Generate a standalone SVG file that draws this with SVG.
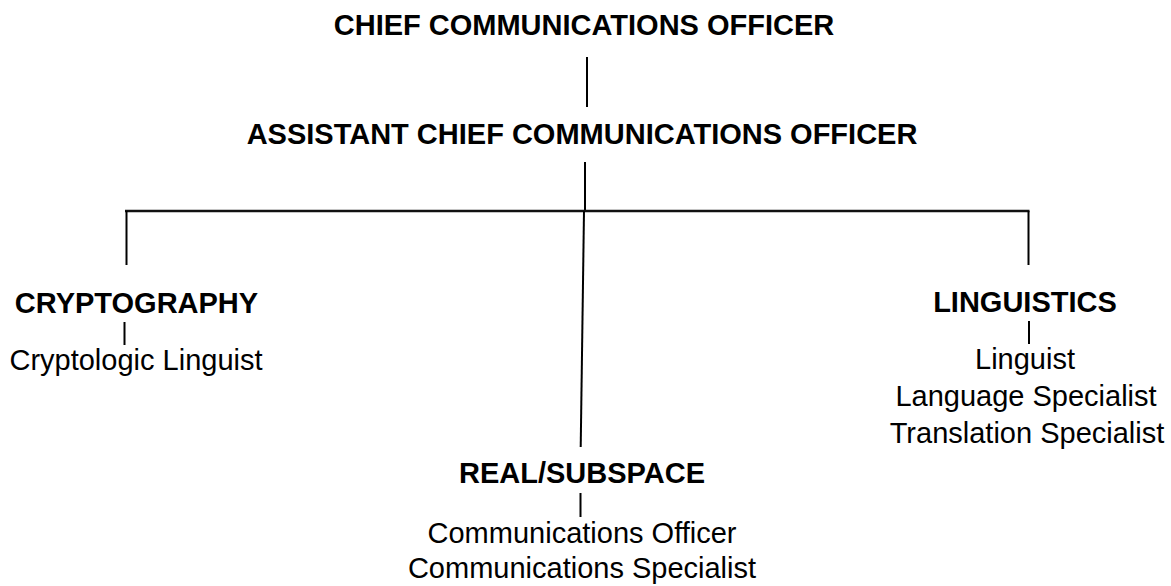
<svg xmlns="http://www.w3.org/2000/svg" width="1171" height="586" viewBox="0 0 1171 586">
<style>
text{font-family:"Liberation Sans",Arial,sans-serif;font-size:29px;fill:#000;text-anchor:middle}
.b{font-weight:bold}
.ln{stroke:#000;stroke-width:2;fill:none}
.hz{stroke:#111;stroke-width:2.5;fill:none}
</style>
<rect width="1171" height="586" fill="#fff"/>
<g id="connectors">
<line class="ln" x1="587" y1="57" x2="587" y2="107"/>
<line class="ln" x1="585" y1="162" x2="585" y2="211"/>
<line class="hz" x1="125" y1="211" x2="1029.5" y2="211"/>
<line class="ln" x1="126.5" y1="211" x2="126.5" y2="265"/>
<line class="ln" x1="1028.5" y1="211" x2="1028.5" y2="265"/>
<line class="ln" x1="584" y1="211" x2="580.7" y2="447"/>
<line class="ln" x1="124.5" y1="322" x2="124.5" y2="345"/>
<line class="ln" x1="1029" y1="321" x2="1029" y2="344"/>
<line class="ln" x1="580.5" y1="493" x2="580.5" y2="517"/>
</g>
<g id="chief"><text class="b" x="584" y="35">CHIEF COMMUNICATIONS OFFICER</text></g>
<g id="assistant"><text class="b" x="582" y="144">ASSISTANT CHIEF COMMUNICATIONS OFFICER</text></g>
<g id="cryptography">
<text class="b" x="136.5" y="313">CRYPTOGRAPHY</text>
<text x="136" y="370">Cryptologic Linguist</text>
</g>
<g id="linguistics">
<text class="b" x="1025" y="312">LINGUISTICS</text>
<text x="1025" y="369">Linguist</text>
<text x="1026" y="406">Language Specialist</text>
<text x="1027" y="443">Translation Specialist</text>
</g>
<g id="realsubspace">
<text class="b" x="582" y="483">REAL/SUBSPACE</text>
<text x="582" y="543">Communications Officer</text>
<text x="582" y="578">Communications Specialist</text>
</g>
</svg>
